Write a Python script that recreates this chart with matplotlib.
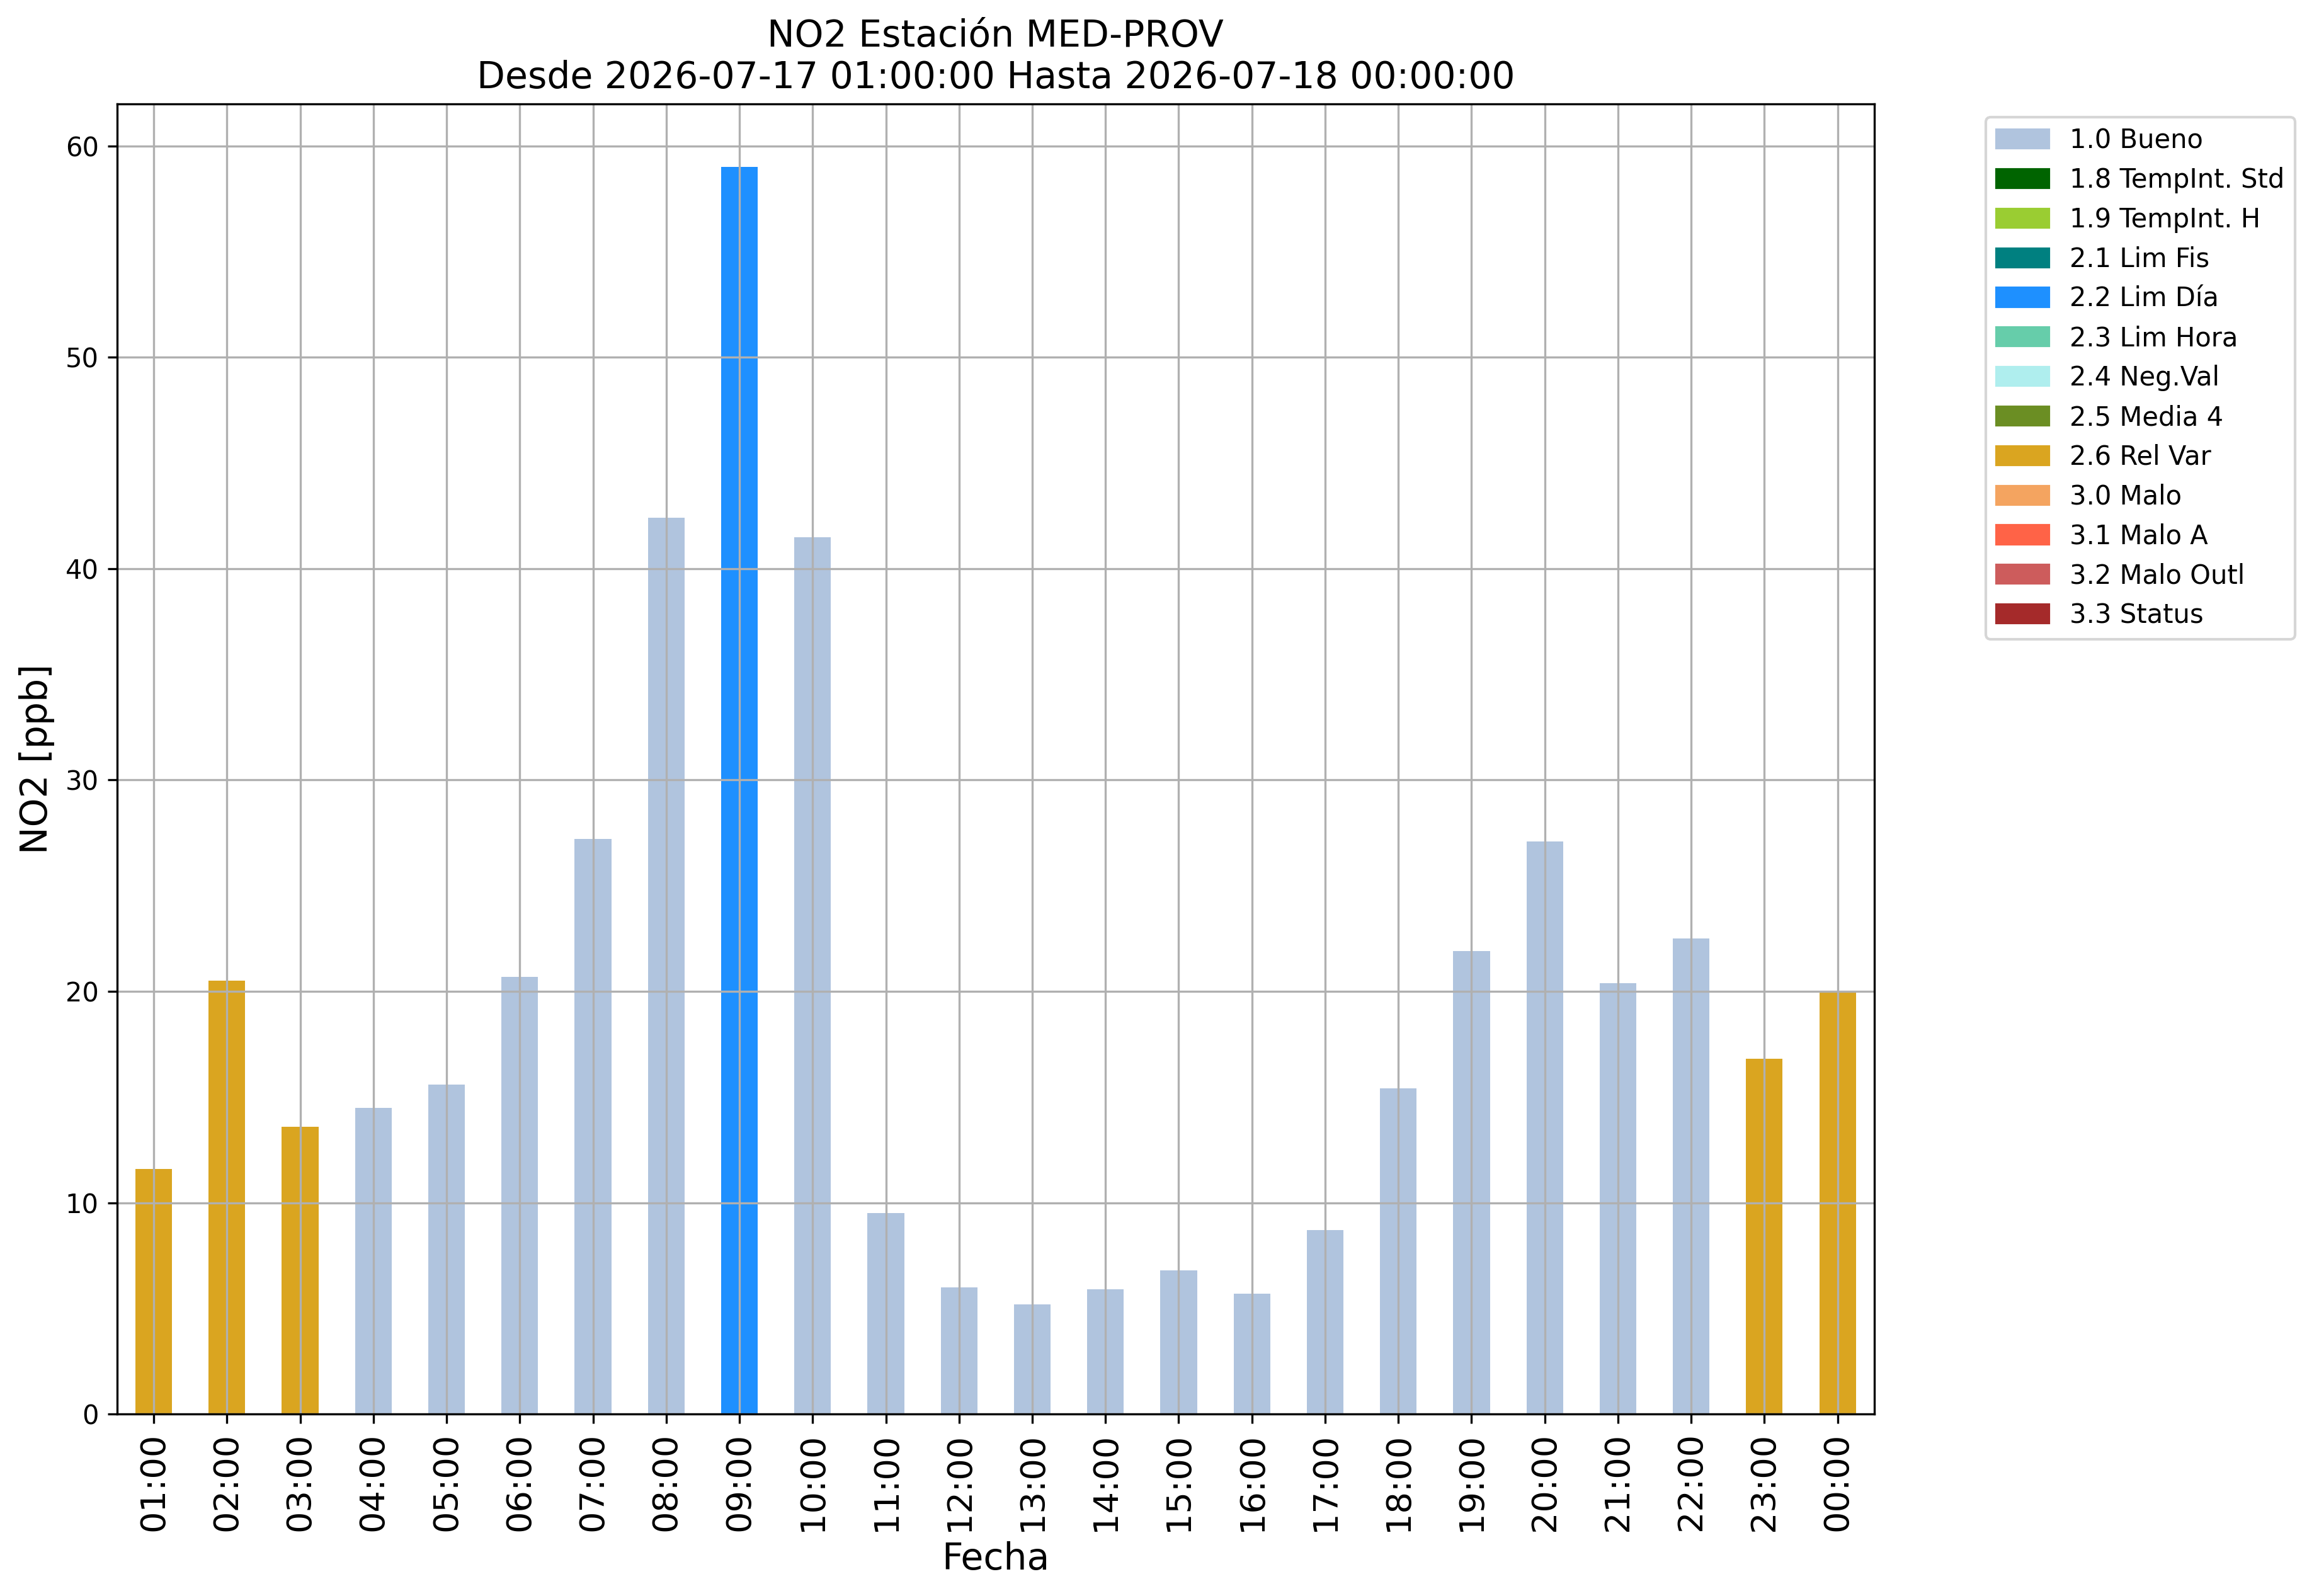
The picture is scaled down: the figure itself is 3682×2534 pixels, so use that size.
import matplotlib
matplotlib.use('Agg')
import matplotlib.pyplot as plt
from matplotlib.patches import Patch

# Hourly NO2 values and their quality flag
horas = ['01:00', '02:00', '03:00', '04:00', '05:00', '06:00', '07:00', '08:00',
         '09:00', '10:00', '11:00', '12:00', '13:00', '14:00', '15:00', '16:00',
         '17:00', '18:00', '19:00', '20:00', '21:00', '22:00', '23:00', '00:00']
no2 = [11.6, 20.5, 13.6, 14.5, 15.6, 20.7, 27.2, 42.4, 59.0, 41.5, 9.5, 6.0,
       5.2, 5.9, 6.8, 5.7, 8.7, 15.4, 21.9, 27.1, 20.4, 22.5, 16.8, 20.0]
banderas = ['2.6 Rel Var', '2.6 Rel Var', '2.6 Rel Var', '1.0 Bueno', '1.0 Bueno',
            '1.0 Bueno', '1.0 Bueno', '1.0 Bueno', '2.2 Lim Día', '1.0 Bueno',
            '1.0 Bueno', '1.0 Bueno', '1.0 Bueno', '1.0 Bueno', '1.0 Bueno',
            '1.0 Bueno', '1.0 Bueno', '1.0 Bueno', '1.0 Bueno', '1.0 Bueno',
            '1.0 Bueno', '1.0 Bueno', '2.6 Rel Var', '2.6 Rel Var']

# Flag legend
etiquetas = ['1.0 Bueno', '1.8 TempInt. Std', '1.9 TempInt. H', '2.1 Lim Fis',
             '2.2 Lim Día', '2.3 Lim Hora', '2.4 Neg.Val', '2.5 Media 4',
             '2.6 Rel Var', '3.0 Malo', '3.1 Malo A', '3.2 Malo Outl', '3.3 Status']
colores = ['lightsteelblue', 'darkgreen', 'yellowgreen', 'teal', 'dodgerblue',
           'mediumaquamarine', 'paleturquoise', 'olivedrab', 'goldenrod',
           'sandybrown', 'tomato', 'indianred', 'brown']
color_de = dict(zip(etiquetas, colores))

fig = plt.figure(figsize=(3682 / 300, 2534 / 300), dpi=300)
ax = fig.add_axes([0.0505, 0.114, 0.7577, 0.821])

x = list(range(len(horas)))
ax.bar(x, no2, width=0.5, color=[color_de[b] for b in banderas])
ax.set_xlim(-0.5, len(horas) - 0.5)
ax.set_ylim(0, 62)
ax.set_xticks(x)
ax.set_xticklabels(horas, rotation=90, fontsize=13)
ax.tick_params(axis='y', labelsize=10)
ax.grid(True)

ax.set_title('NO2 Estación MED-PROV\nDesde 2026-07-17 01:00:00 Hasta 2026-07-18 00:00:00',
             fontsize=14)
ax.set_xlabel('Fecha', fontsize=14)
ax.set_ylabel('NO2 [ppb]', fontsize=14)

handles = [Patch(color=c, label=l) for l, c in zip(etiquetas, colores)]
ax.legend(handles=handles, bbox_to_anchor=(1.056, 1), loc='upper left', fontsize=10)

fig.savefig('out.png', dpi=300)
